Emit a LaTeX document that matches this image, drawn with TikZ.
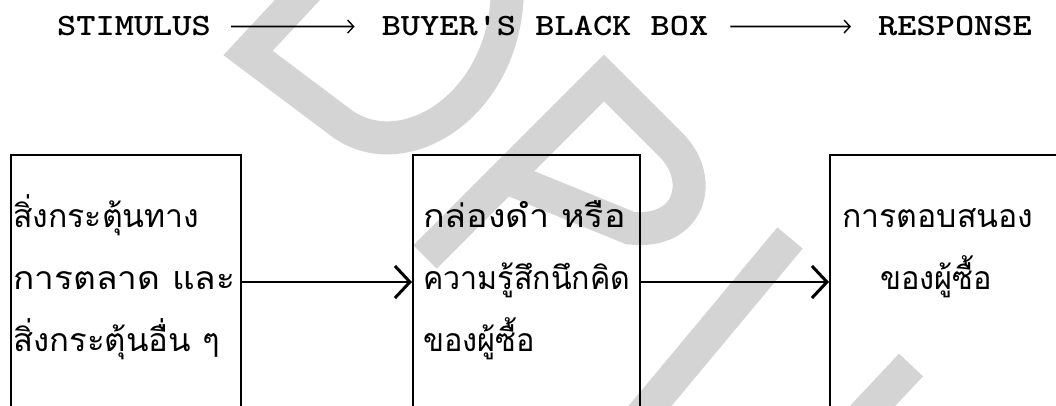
\documentclass[tikz,border=0pt]{standalone}
\usepackage{fontspec}
\usetikzlibrary{arrows.meta}
\newfontfamily\thaifont[Script=Thai]{Loma}
\newfontfamily\tw[FakeStretch=1.18]{lmmonolt10-bold.otf}
\definecolor{wm}{RGB}{212,212,212}
\begin{document}
\begin{tikzpicture}[x=1pt,y=-1pt,
  box/.style={draw, line width=2pt, rectangle, inner sep=0pt, anchor=north west},
  thai/.style={font=\thaifont\fontsize{32}{40}\selectfont\addfontfeature{FakeStretch=#1}, anchor=base west, inner sep=0pt},
  head/.style={font=\tw\fontsize{31}{36}\selectfont, anchor=base, inner sep=0pt},
  toparrow/.style={line width=1.8pt, -{Straight Barb[length=6pt,width=13pt,line width=1.4pt]}},
  conn/.style={line width=2pt, -{Straight Barb[length=15pt,width=32pt,line width=3pt]}},
  wmstroke/.style={draw=wm, line width=33pt, line join=miter, line cap=butt}]
\useasboundingbox (0,0) rectangle (1056,406);
\clip (0,0) rectangle (1056,406);
\fill[white] (0,0) rectangle (1056,406);
% watermark
\draw[wmstroke] (330,-35) -- (248,53) -- (340,122) .. controls (400,168) and (500,110) .. (507,0) -- (510,-35);
\draw[wmstroke] (425,257) -- (604,78) -- (672,146) .. controls (705,180) and (690,235) .. (630,228) -- (505,177);
\draw[wmstroke] (790,238) -- (630,430);
\draw[wmstroke] (911,365) -- (850,430);
% header
\node[head] (stim) at (134,36) {STIMULUS};
\node[head] (bbb) at (545,36) {BUYER'S BLACK BOX};
\node[head] (resp) at (955,36) {RESPONSE};
\draw[toparrow] ([xshift=20pt]stim.east) -- ([xshift=-27pt]bbb.west);
\draw[toparrow] ([xshift=22pt]bbb.east) -- ([xshift=-27pt]resp.west);
% boxes
\node[box, minimum width=230pt, minimum height=254pt] (b1) at (10,154) {};
\node[box, minimum width=227pt, minimum height=254pt] (b2) at (412,154) {};
\node[box, minimum width=280pt, minimum height=254pt] (b3) at (829,154) {};
\draw[conn] (b1.east) -- (b2.west);
\draw[conn] (b2.east) -- (b3.west);
% texts
\node[thai=1.0] (l1) at (13,227) {สิ่งกระตุ้นทาง};
\node[thai=1.1] (l2) at (13,289) {การตลาด และ};
\node[thai=1.03] (l3) at (13,351) {สิ่งกระตุ้นอื่น ๆ};
\node[thai=1.12] (m1) at (423,227) {กล่องดำ หรือ};
\node[thai=0.95] (m2) at (423,289) {ความรู้สึกนึกคิด};
\node[thai=0.96] (m3) at (423,351) {ของผู้ซื้อ};
\node[thai=1.0] (r1) at (842,227) {การตอบสนอง};
\node[thai=0.96] (r2) at (880,289) {ของผู้ซื้อ};
\end{tikzpicture}
\end{document}
